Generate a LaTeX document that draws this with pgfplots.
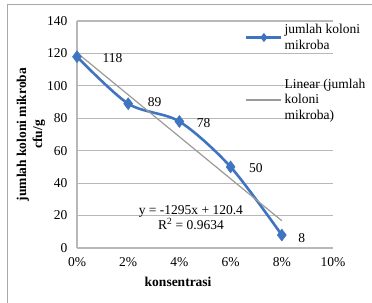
\documentclass[border=0pt]{standalone}
\usepackage{fontspec}
\setmainfont{Liberation Serif}
\usepackage{pgfplots}
\usepackage{pgfplotstable}
\pgfplotsset{compat=1.18}
\definecolor{serblue}{HTML}{3F75C0}
\definecolor{trendgray}{HTML}{9A9A9A}
\definecolor{gridgray}{HTML}{B8B8B8}
\definecolor{framegray}{HTML}{A8A8A8}
\pgfplotstableread{
x y dx dy
0.00 118 22 -1
0.02 89 16 2
0.04 78 14 -2
0.06 50 15 -1
0.08 8 13 -3
}\datatable
\begin{document}
\begin{tikzpicture}
\draw[white, line width=0pt] (0,0) rectangle (372bp,303bp);
\draw[framegray, line width=1bp] (7bp,0.5bp) -- (7bp,298bp) -- (371.5bp,298bp);
\begin{axis}[
  at={(77bp,55bp)}, anchor=south west,
  scale only axis, width=256bp, height=227bp,
  xmin=0, xmax=0.10, ymin=0, ymax=140,
  xtick={0,0.02,0.04,0.06,0.08,0.10},
  xticklabels={0\%,2\%,4\%,6\%,8\%,10\%},
  ytick={0,20,...,140},
  axis line style={draw=none},
  major tick length=0pt,
  /pgf/number format/assume math mode=true,
  tick label style={font=\fontsize{13.5bp}{15bp}\selectfont, black},
  yticklabel style={xshift=-6bp},
  xticklabel style={yshift=-6bp},
  xlabel={konsentrasi},
  xlabel style={at={(axis description cs:0.395,-0.15)}, anchor=center, font=\fontsize{13.5bp}{15bp}\selectfont\bfseries},
  ylabel={jumlah koloni mikroba\\cfu/g},
  ylabel style={at={(axis description cs:-0.18,0.5)}, anchor=center, rotate=0, align=center, font=\fontsize{13.5bp}{16bp}\selectfont\bfseries},
  legend style={at={(axis description cs:0.656,0.995)}, anchor=north west, draw=none, fill=none,
    font=\fontsize{13.5bp}{15.5bp}\selectfont, cells={align=left}, row sep=24bp, inner sep=0pt},
  legend cell align=left,
  clip=false,
]
\pgfplotsinvokeforeach{0,20,...,140}{
  \draw[gridgray, line width=1.2bp] (axis cs:0,#1) -- (axis cs:0.1,#1);
}
\draw[gridgray, line width=1.2bp] (axis cs:0,0) -- (axis cs:0,140);
\addplot[serblue, line width=2.6bp, smooth, tension=0.5, mark=diamond*, mark size=6bp,
  mark options={fill=serblue, draw=serblue, line width=0.5bp},
  nodes near coords, point meta=explicit,
  visualization depends on={\thisrow{dx} \as \dx},
  visualization depends on={\thisrow{dy} \as \dy},
  nodes near coords style={anchor=west, xshift=\dx bp, yshift=\dy bp, font=\fontsize{13.5bp}{15bp}\selectfont, black},
  legend image code/.code={
    \path[draw=none,fill=none] (0bp,-15.5bp) -- (0bp,1.3bp);
    \draw[serblue, line width=2.6bp] (0bp,0bp) -- (35bp,0bp);
    \fill[serblue] (17.5bp,2.5bp) -- (19.5bp,0bp) -- (17.5bp,-2.5bp) -- (15.5bp,0bp) -- cycle;
  }]
  table[x=x, y=y, meta=y] {\datatable};
\addlegendentry{jumlah koloni\\mikroba}
\addplot[trendgray, line width=1.2bp,
  legend image code/.code={
    \path[draw=none,fill=none] (0bp,-31bp) -- (0bp,1bp);
    \draw[trendgray, line width=2bp] (0bp,0bp) -- (35bp,0bp);}]
  coordinates {(0,120.4) (0.08,16.8)};
\addlegendentry{Linear (jumlah\\koloni\\mikroba)}
\node[font=\fontsize{13.5bp}{15bp}\selectfont, align=center] at (axis cs:0.0445,18.5) {y = -1295x + 120.4\\R\textsuperscript{2} = 0.9634};
\end{axis}
\end{tikzpicture}
\end{document}
